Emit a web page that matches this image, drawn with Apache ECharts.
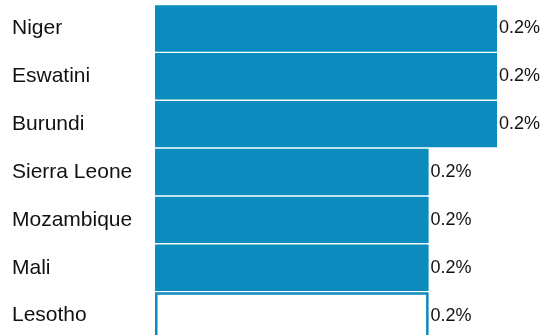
<!DOCTYPE html>
<html><head><meta charset="utf-8">
<script src="https://cdn.jsdelivr.net/npm/echarts@6/dist/echarts.min.js"></script>
<style>html,body{margin:0;padding:0;background:#fff}#c{width:543px;height:335px}</style>
</head><body><div id="c"></div>
<script>
var categories = ["Niger", "Eswatini", "Burundi", "Sierra Leone", "Mozambique", "Mali", "Lesotho"];
var values = [0.25, 0.25, 0.25, 0.2, 0.2, 0.2, 0.2];
var valueLabels = ["0.2%", "0.2%", "0.2%", "0.2%", "0.2%", "0.2%", "0.2%"];
var highlighted = ["Lesotho"];

var BLUE = '#0b8bbe';
var chart = echarts.init(document.getElementById('c'));
chart.setOption({
  animation: false,
  grid: { left: 155, right: 46, top: 4.5, height: 335, containLabel: false, outerBoundsMode: 'none' },
  xAxis: { type: 'value', min: 0, max: 0.25, show: false },
  yAxis: {
    type: 'category', data: categories, inverse: true,
    axisLine: { show: false }, axisTick: { show: false }, splitLine: { show: false },
    axisLabel: { align: 'left', margin: 143, fontSize: 21, color: '#111', fontFamily: 'Liberation Sans, Arial, sans-serif' }
  },
  series: [{
    type: 'bar',
    barCategoryGap: '3%',
    data: values.map(function (v, i) {
      var hl = highlighted.indexOf(categories[i]) >= 0;
      return {
        value: v,
        itemStyle: hl ? { color: '#fff', borderColor: BLUE, borderWidth: 2.5 } : { color: BLUE }
      };
    }),
    label: {
      show: true, position: 'right', distance: 2,
      fontSize: 18, color: '#111', fontFamily: 'Liberation Sans, Arial, sans-serif',
      formatter: function (p) { return valueLabels[p.dataIndex]; }
    }
  }]
});
</script></body></html>
